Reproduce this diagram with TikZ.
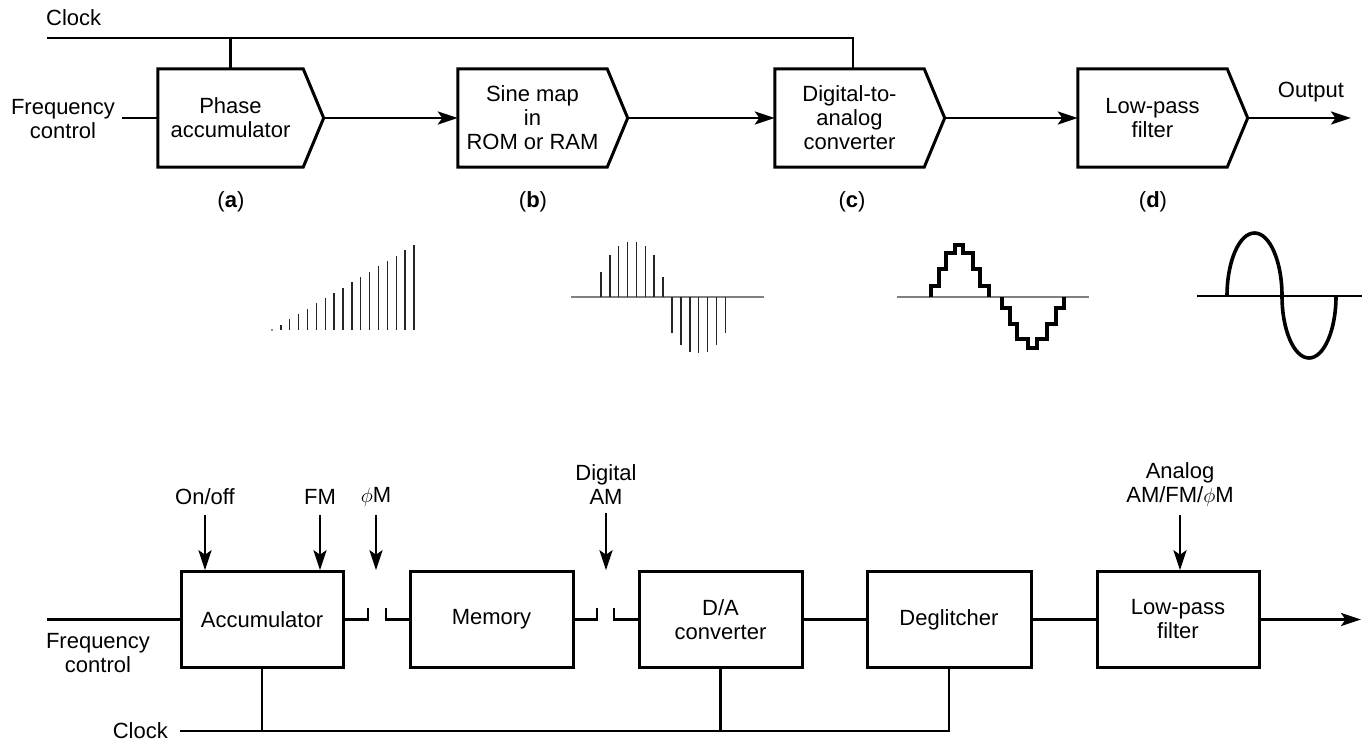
\documentclass[tikz,border=0pt]{standalone}
\usepackage{fontspec}
\setmainfont{Liberation Sans}
\usetikzlibrary{arrows.meta}
\begin{document}
\begin{tikzpicture}[x=1pt,y=-1pt,
  every node/.style={font=\fontsize{22}{24}\selectfont, inner sep=0pt, align=center},
  blk/.style={minimum height=98pt},
  bbox/.style={draw, line width=3pt, minimum width=163pt, minimum height=95.5pt},
  ln/.style={line width=2.8pt},
  arr/.style={ln, -{Stealth[length=20pt,width=13pt,inset=4.5pt]}},
  outl/.style={line width=3pt, line join=miter},
  thinln/.style={line width=1.4pt, black!85},
  axisg/.style={line width=2pt, gray},
  wave/.style={line width=3.4pt, line join=miter}
]
\useasboundingbox (0,0) rectangle (1362,742);

% ---------- top chain ----------
\node[blk, minimum width=145pt] (A) at (230.5,118) {Phase\\accumulator};
\node[blk, minimum width=149pt] (B) at (532.5,118) {Sine map\\in\\ROM or RAM};
\node[blk, minimum width=149pt] (C) at (849.5,118) {Digital-to-\\analog\\converter};
\node[blk, minimum width=149pt] (D) at (1152.5,118) {Low-pass\\filter};
\foreach \n in {A,B,C,D}{
  \coordinate (\n tip) at ([xshift=20.5pt]\n.east);
  \draw[outl] (\n.north west) -- (\n.north east) -- (\n tip) -- (\n.south east) -- (\n.south west) -- cycle;
}

\node[anchor=west] (clkTL) at (46,18) {Clock};
\coordinate (clkT) at (47,38);
\coordinate (cdrop) at ([xshift=3.5pt]C.north);
\draw[ln] (clkT) -- (clkT -| cdrop) -- (cdrop);
\draw[ln] (A.north) -- (A.north |- clkT);

\node (fqT) at (63,119) {Frequency\\control};
\coordinate (fcin) at (122,118);
\draw[ln] (fcin) -- (A.west);

\draw[arr] (Atip) -- (B.west);
\draw[arr] (Btip) -- (C.west);
\draw[arr] (Ctip) -- (D.west);
\node (outL) at (1311,92) {Output};
\coordinate (outT) at (1351,118);
\draw[arr] (Dtip) -- (outT);

\node (la) at (231,202) {(\textbf{a})};
\node (lb) at (533,202) {(\textbf{b})};
\node (lc) at (852,202) {(\textbf{c})};
\node (ld) at (1153,202) {(\textbf{d})};

% ---------- waveforms ----------
% ramp
\fill[black!85] (272,330) circle (0.8pt);
\foreach \i in {1,...,16}
  \draw[thinln] ({272+8.875*\i},330) -- ++(0,{-5.31*\i});

% sampled sine
\draw[axisg] (571,297) -- (764,297);
\foreach \h [count=\k from 0] in {25,42,51,55,55,51,42,20}
  \draw[thinln] ({601+8.86*\k},297) -- ++(0,-\h);
\foreach \h [count=\k from 0] in {36,48,55,56,55,48,36}
  \draw[thinln] ({672+8.9*\k},297) -- ++(0,\h);

% staircase
\draw[axisg] (897,297) -- (1089,297);
\draw[wave] (931,297) -- (931,286) -- (939,286) -- (939,269) -- (946,269) -- (946,253)
  -- (955,253) -- (955,245) -- (963,245) -- (963,253) -- (973,253) -- (973,269)
  -- (980,269) -- (980,286) -- (989,286) -- (989,297);
\draw[wave] (1002,297) -- (1002,308) -- (1010,308) -- (1010,324) -- (1017,324) -- (1017,339)
  -- (1028,339) -- (1028,348) -- (1037,348) -- (1037,339) -- (1047,339) -- (1047,324)
  -- (1056,324) -- (1056,308) -- (1064,308) -- (1064,297);

% smooth sine
\draw[line width=1.5pt] (1197,296) -- (1362,296);
\draw[line width=3.6pt] (1227,296) arc[start angle=180, end angle=360, x radius=27.5, y radius=63]
  arc[start angle=180, end angle=0, x radius=27, y radius=62];

% ---------- bottom chain ----------
\node[bbox, minimum width=162pt] (acc) at (262,619.5) {Accumulator};
\node[bbox] (mem) at (491.5,619.5) {Memory};
\node[bbox] (dac) at (720.5,619.5) {D/A\\converter};
\node[bbox, minimum width=164pt] (deg) at (949,619.5) {Deglitcher};
\node[bbox, minimum width=162pt] (lpf) at (1178,619.5) {Low-pass\\filter};

\coordinate (g1a) at (368,608);
\coordinate (g1b) at (386,608);
\coordinate (g2a) at (597,608);
\coordinate (g2b) at (614,608);
\draw[ln] (acc.east) -| (g1a);
\draw[ln] (g1b) |- (mem.west);
\draw[ln] (mem.east) -| (g2a);
\draw[ln] (g2b) |- (dac.west);
\draw[ln] (dac) -- (deg);
\draw[ln] (deg) -- (lpf);
\coordinate (outB) at (1361,619.5);
\draw[arr] (lpf) -- (outB);

\coordinate (fin) at (47,619.5);
\draw[ln] (fin) -- (acc);
\node (fqB) at (98,653) {Frequency\\control};

\node[anchor=east] (clkBL) at (168,731) {Clock};
\coordinate (clkB) at (180,731);
\draw[ln] (clkB) -- (clkB -| deg.south) -- (deg.south);
\draw[ln] (acc.south) -- (acc.south |- clkB);
\draw[ln] (dac.south) -- (dac.south |- clkB);

\node (lOn) at (205,497) {On/off};
\node (lFM) at (320,497) {FM};
\node (lPM) at (376,497) {$\phi$M};
\node (lDAM) at (606,485) {Digital\\AM};
\node (lAn) at (1180,485) {Analog\\AM/FM/$\phi$M};

\draw[arr, shorten <=10pt] (lOn.south) -- (lOn.south |- acc.north);
\draw[arr, shorten <=10pt] (lFM.south) -- (lFM.south |- acc.north);
\draw[arr, shorten <=8pt] (lPM.south) -- (lPM.south |- acc.north);
\draw[arr, shorten <=8pt] (lDAM.south) -- (lDAM.south |- dac.north);
\draw[arr, shorten <=8pt] (lAn.south) -- (lAn.south |- lpf.north);
\end{tikzpicture}
\end{document}
